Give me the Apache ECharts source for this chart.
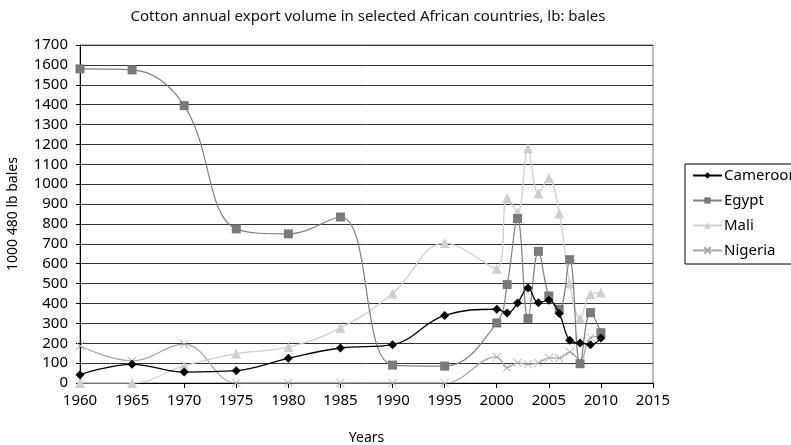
<!DOCTYPE html>
<html style="height: 100%">
<head>
    <meta charset="utf-8">
    <title>Cotton export volume</title>
    <script type="text/javascript" src="https://cdn.jsdelivr.net/npm/echarts@6/dist/echarts.min.js"></script>
</head>
<body style="height: 100%; margin: 0; background: #fff">
    <div id="container" style="width: 791px; height: 445px"></div>
    <script type="text/javascript">
        // years: every 5 years until 2000, then yearly
        var years = [1960, 1965, 1970, 1975, 1980, 1985, 1990, 1995, 2000,
            2001, 2002, 2003, 2004, 2005, 2006, 2007, 2008, 2009, 2010];

        var cameroon = [42, 94, 55, 62, 124, 176, 193, 340, 371,
            352, 402, 478, 404, 416, 349, 215, 201, 193, 226];
        var egypt = [1580, 1575, 1395, 775, 750, 835, 90, 85, 302,
            495, 827, 325, 662, 438, 371, 620, 97, 354, 253];
        var mali = [0, 0, 86, 148, 180, 277, 450, 704, 575,
            931, 859, 1179, 953, 1031, 852, 500, 324, 446, 455];
        var nigeria = [186, 111, 195, 0, 0, 0, 0, 0, 131,
            77, 101, 94, 101, 126, 125, 156, 114, 228, 235];

        var yTicks = { min: 0, max: 1700, interval: 100 };
        var xTicks = { min: 1960, max: 2015, interval: 5 };

        function pairs(values) {
            var out = [];
            for (var i = 0; i < years.length; i++) {
                out.push([years[i], values[i]]);
            }
            return out;
        }

        var font = 'Noto Sans';
        var fs = 15;
        var dom = document.getElementById('container');
        var myChart = echarts.init(dom, null, { renderer: 'canvas' });

        var option = {
            animation: false,
            backgroundColor: '#fff',
            textStyle: { fontFamily: font },
            title: {
                text: 'Cotton annual export volume in selected African countries, lb: bales',
                left: 363,
                textAlign: 'center',
                top: 4,
                textStyle: { fontFamily: font, fontSize: 15, fontWeight: 'normal', color: '#111' }
            },
            legend: {
                orient: 'vertical',
                left: 685,
                top: 164,
                padding: [4, 6, 6, 7],
                itemGap: 10,
                itemWidth: 29,
                itemHeight: 8,
                borderColor: '#000',
                borderWidth: 1,
                backgroundColor: '#fff',
                textStyle: { fontFamily: font, fontSize: fs, color: '#000', padding: [0, 0, 0, -3] },
                data: ['Cameroon', 'Egypt', 'Mali', 'Nigeria']
            },
            grid: {
                left: 80,
                right: 138,
                top: 45,
                bottom: 62,
                outerBoundsMode: 'none',
                containLabel: false,
                show: true,
                borderColor: '#777',
                borderWidth: 1,
                backgroundColor: 'transparent'
            },
            xAxis: {
                type: 'value',
                min: xTicks.min,
                max: xTicks.max,
                interval: xTicks.interval,
                name: 'Years',
                nameLocation: 'middle',
                nameGap: 48,
                nameTextStyle: { fontFamily: font, fontSize: 14, color: '#000' },
                axisLine: { lineStyle: { color: '#000', width: 1 } },
                axisTick: { show: true, length: 5, lineStyle: { color: '#000' } },
                axisLabel: { fontFamily: font, fontSize: fs, color: '#000', margin: 10,
                    formatter: function (v) { return String(v); } },
                splitLine: { show: false }
            },
            yAxis: {
                type: 'value',
                min: yTicks.min,
                max: yTicks.max,
                interval: yTicks.interval,
                name: '1000 480 lb bales',
                nameLocation: 'middle',
                nameGap: 60,
                nameRotate: 90,
                nameTextStyle: { fontFamily: font, fontSize: 14, color: '#000' },
                axisLine: { show: true, lineStyle: { color: '#000', width: 1 } },
                axisTick: { show: true, length: 4, lineStyle: { color: '#000' } },
                axisLabel: { fontFamily: font, fontSize: fs, color: '#000', margin: 12,
                    formatter: function (v) { return String(v); } },
                splitLine: { show: true, lineStyle: { color: '#333', width: 1 } }
            },
            series: [
                {
                    name: 'Cameroon',
                    type: 'line',
                    smooth: 0.4,
                    symbol: 'diamond',
                    symbolSize: 9,
                    lineStyle: { color: '#000', width: 1.3 },
                    itemStyle: { color: '#000' },
                    data: pairs(cameroon),
                    z: 5
                },
                {
                    name: 'Egypt',
                    type: 'line',
                    smooth: 0.4,
                    symbol: 'rect',
                    symbolSize: 9,
                    lineStyle: { color: '#808080', width: 1.2 },
                    itemStyle: { color: '#7a7a7a' },
                    data: pairs(egypt),
                    z: 4
                },
                {
                    name: 'Mali',
                    type: 'line',
                    smooth: 0.4,
                    symbol: 'triangle',
                    symbolSize: 10,
                    lineStyle: { color: '#cfcfcf', width: 1.3 },
                    itemStyle: { color: '#cfcfcf' },
                    data: pairs(mali),
                    z: 3
                },
                {
                    name: 'Nigeria',
                    type: 'line',
                    smooth: 0.4,
                    symbol: 'path://M0,0L10,10M0,10L10,0',
                    symbolSize: 8,
                    lineStyle: { color: '#a8a8a8', width: 1.3 },
                    itemStyle: { color: 'none', borderColor: '#a8a8a8', borderWidth: 1 },
                    data: pairs(nigeria),
                    z: 2
                }
            ]
        };

        myChart.setOption(option, true);
    </script>
</body>
</html>
